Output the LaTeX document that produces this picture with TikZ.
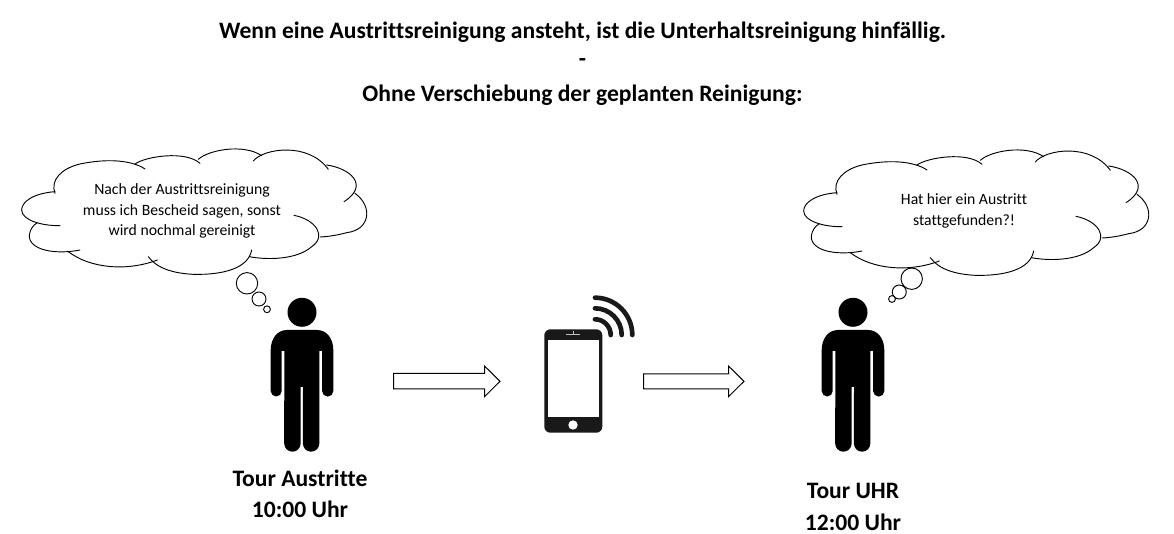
\documentclass[tikz,border=0pt]{standalone}
\usepackage{fontspec}
\setmainfont{Carlito}[Ligatures=NoCommon]
\tikzset{
  headline/.style={font=\bfseries\fontsize{17.7}{20}\selectfont,text=black,inner sep=0pt,anchor=center},
  thought/.style={font=\fontsize{11.8}{15.4}\selectfont,text=black,align=center,inner sep=0pt,anchor=center},
  outline/.style={draw=black,line width=0.7pt,line cap=round},
  bubble/.style={draw=black,line width=0.7pt,fill=white},
  blockarrow/.style={draw=black,line width=0.75pt,fill=white,line join=miter},
  thoughtcloud/.pic={
    \begin{scope}[x=0.25pt,y=-0.25pt]
      \draw[outline] (165,160) .. controls (150,120) and (185,85) .. (240,72) .. controls (320,55) and (395,60) .. (435,87);
      \draw[outline] (405,72) .. controls (435,50) and (555,30) .. (600,70);
      \draw[outline] (595,58) .. controls (625,30) and (730,10) .. (785,47);
      \draw[outline] (760,63) .. controls (790,25) and (925,5) .. (985,88);
      \draw[outline] (980,75) .. controls (1050,85) and (1110,135) .. (1032,185);
      \draw[outline] (1065,160) .. controls (1120,200) and (1110,270) .. (1040,278) .. controls (1015,285) and (985,290) .. (960,291);
      \draw[outline] (882,226) .. controls (950,240) and (980,290) .. (935,320) .. controls (890,360) and (800,360) .. (748,350);
      \draw[outline] (755,330) .. controls (745,385) and (670,405) .. (580,403) .. controls (520,400) and (470,385) .. (445,350);
      \draw[outline] (472,360) .. controls (380,395) and (270,385) .. (205,335);
      \draw[outline] (240,330) .. controls (165,345) and (85,330) .. (88,285) .. controls (90,268) and (100,255) .. (112,248);
      \draw[outline] (165,155) .. controls (100,160) and (65,185) .. (65,210) .. controls (65,240) and (125,258) .. (180,257);
    \end{scope}
  },
  figureman/.pic={
    \fill[black] (0,-17.7) circle (14.5);
    \fill[black]
      (-15,0) -- (15,0)
      .. controls (25,0) and (31.3,9) .. (31.3,20)
      -- (31.3,61) arc[start angle=0,end angle=180,radius=5.6]
      -- (20.1,21) -- (17.3,21) -- (17.3,113.5)
      arc[start angle=0,end angle=180,radius=8.2]
      -- (1,57) -- (-1.4,57) -- (-1.4,113.5)
      arc[start angle=0,end angle=180,radius=8.2]
      -- (-17.7,21) -- (-20.3,21) -- (-20.3,61)
      arc[start angle=0,end angle=180,radius=5.5]
      -- (-31.3,20)
      .. controls (-31.3,9) and (-25,0) .. (-15,0) -- cycle;
  }
}
\begin{document}
\begin{tikzpicture}[x=0.75pt,y=-0.75pt]
\useasboundingbox (0,0) rectangle (1174,534);
\fill[white] (0,0) rectangle (1174,534);

% title
\node[headline] (t1) at (582.5,32) {Wenn eine Austrittsreinigung ansteht, ist die Unterhaltsreinigung hinfällig.};
\node[headline] (t2) at (582.5,63) {-};
\node[headline] (t3) at (582.5,95) {Ohne Verschiebung der geplanten Reinigung:};

% clouds
\pic at (0,140) {thoughtcloud};
\pic at (782,141) {thoughtcloud};
\node[thought] (c1) at (182,211) {Nach der Austrittsreinigung\\muss ich Bescheid sagen, sonst\\wird nochmal gereinigt};
\node[thought] (c2) at (964,211) {Hat hier ein Austritt\\stattgefunden?!};

% thought bubbles
\draw[bubble] (247,283.3) circle (10.7);
\draw[bubble] (259,299) circle (7);
\draw[bubble] (267,309.3) circle (3.4);
\draw[bubble] (911.7,278.7) circle (10.7);
\draw[bubble] (899.3,292) circle (7);
\draw[bubble] (892,299) circle (3.4);

% people
\pic at (302,330) {figureman};
\pic at (853,330) {figureman};

% captions
\node[headline] (p1a) at (300,478) {Tour Austritte};
\node[headline] (p1b) at (300,509) {10:00 Uhr};
\node[headline] (p2a) at (853,491) {Tour UHR};
\node[headline] (p2b) at (853,522) {12:00 Uhr};

% block arrows
\draw[blockarrow] (393.5,373.5) -- (484.5,373.5) -- (484.5,366) -- (500,381.3) -- (484.5,396.7) -- (484.5,389) -- (393.5,389) -- cycle;
\draw[blockarrow] (643.5,374) -- (728.5,374) -- (728.5,366) -- (744,381.3) -- (728.5,396.7) -- (728.5,389) -- (643.5,389) -- cycle;

% phone
\fill[black!90,rounded corners=4.5pt] (544.3,329.3) rectangle (602.3,432.7);
\fill[white] (548,340) rectangle (598.7,416.7);
\fill[white] (573,425) circle (4.7);
\fill[black!25] (566,333.6) rectangle (580,335);
\fill[black!25] (572.5,331.5) rectangle (573.5,334);

% wifi arcs
\draw[black!90,line width=3.5pt,line cap=round] (610.7,335) arc[start angle=0,end angle=-90,radius=15.7];
\draw[black!90,line width=3.5pt,line cap=round] (621.7,335) arc[start angle=0,end angle=-90,radius=26.7];
\draw[black!90,line width=3.5pt,line cap=round] (632.3,335) arc[start angle=0,end angle=-90,radius=37.3];
\end{tikzpicture}
\end{document}
